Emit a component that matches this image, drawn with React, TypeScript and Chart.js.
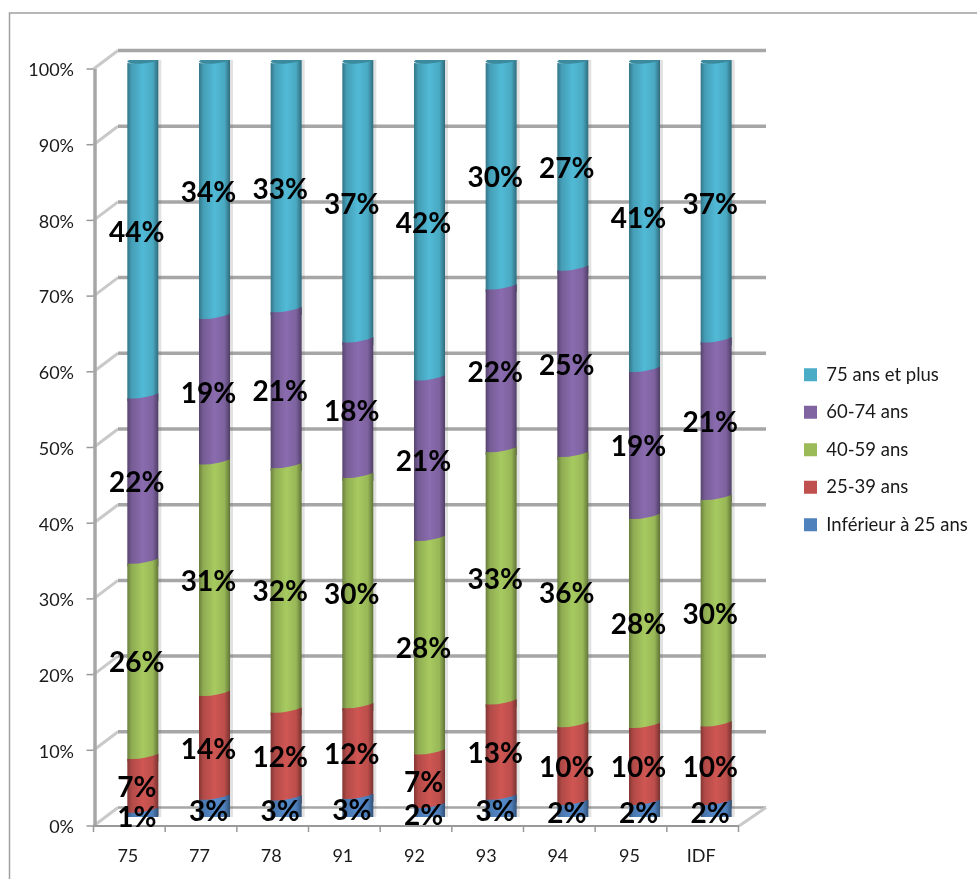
import React, { useEffect, useRef } from "react";
import { BarController, Chart, registerables } from "chart.js";

// Share of each age group per département, in percent (rows sum to 100).
const categories = ["75", "77", "78", "91", "92", "93", "94", "95", "IDF"];
const under25 = [1.0, 2.7, 2.6, 2.8, 1.6, 2.7, 2.0, 2.0, 2.0];
const age25to39 = [7.1, 13.7, 11.6, 12.0, 7.1, 12.6, 10.3, 10.2, 10.4];
const age40to59 = [25.8, 30.6, 32.3, 30.4, 28.2, 33.3, 35.7, 27.6, 29.9];
const age60to74 = [21.8, 19.2, 20.6, 17.9, 21.2, 21.5, 24.6, 19.4, 20.8];
const age75plus = [44.3, 33.8, 32.9, 36.9, 41.9, 29.9, 27.4, 40.8, 36.9];

const seriesNames = ["Inférieur à 25 ans", "25-39 ans", "40-59 ans", "60-74 ans", "75 ans et plus"];
const seriesColors = ["#4F81BD", "#C0504D", "#9BBB59", "#8064A2", "#4BACC6"];
const seriesValues = [under25, age25to39, age40to59, age60to74, age75plus];

const FONT = "Lato, 'Open Sans', sans-serif";
const TEXT = "#1a1a1a";
const GRID = "#a6a6a6";
const GRID_SOFT = "#c9c9c9";

function shade(hex: string, f: number): string {
  const n = parseInt(hex.slice(1), 16);
  const ch = (v: number) => Math.max(0, Math.min(255, Math.round(v * f)));
  return `rgb(${ch((n >> 16) & 255)},${ch((n >> 8) & 255)},${ch(n & 255)})`;
}

// Stacked bar controller that paints each segment as a piece of a cylinder.
class CylinderController extends BarController {
  static id = "cylinder";

  draw() {
    const ctx = this.chart.ctx;
    const last = this.index === this.chart.data.datasets.length - 1;
    const first = this.index === 0;
    for (const el of this.getMeta().data as any[]) {
      const base = el.options.backgroundColor as string;
      const l = el.x - el.width / 2;
      const r = el.x + el.width / 2;
      const g = ctx.createLinearGradient(l, 0, r, 0);
      g.addColorStop(0, shade(base, 0.68));
      g.addColorStop(0.14, shade(base, 0.92));
      g.addColorStop(0.5, shade(base, 1.08));
      g.addColorStop(0.82, shade(base, 0.98));
      g.addColorStop(1, shade(base, 0.62));

      ctx.save();
      // soft cast shadow on the wall behind the column
      ctx.fillStyle = "rgba(110,110,110,0.2)";
      ctx.fillRect(r, el.y, 3, el.base - el.y);

      ctx.beginPath();
      ctx.moveTo(l, el.y + 3);
      ctx.bezierCurveTo(l + el.width * 0.3, el.y + 4, l + el.width * 0.7, el.y + 2, r, el.y - 2);
      if (first) {
        ctx.lineTo(r, el.base);
        ctx.bezierCurveTo(l + el.width * 0.7, el.base + 5, l + el.width * 0.3, el.base + 6, l, el.base + 4);
      } else {
        ctx.lineTo(r, el.base + 6);
        ctx.lineTo(l, el.base + 6);
      }
      ctx.closePath();
      ctx.fillStyle = g;
      ctx.fill();

      if (last) {
        // column cap
        ctx.beginPath();
        ctx.ellipse(el.x, el.y + 0.5, el.width / 2, 3, -0.07, 0, Math.PI * 2);
        ctx.fillStyle = shade(base, 0.8);
        ctx.fill();
      }
      ctx.restore();
    }
  }
}

Chart.register(...registerables, CylinderController);

// Back wall, side wall, floor and front axis of the box the columns stand in.
const chartBox = {
  id: "chartBox",
  afterLayout(chart: any) {
    // The legend sits in the free column to the right of the plot.
    const legend = chart.legend;
    const pad = legend.options.labels.padding;
    legend.left = 804 - pad;
    legend.right = 977;
    legend.top = 375 - 9.5 - pad;
    legend.bottom = legend.top + 400;
  },
  beforeDatasetsDraw(chart: any) {
    const { ctx, chartArea, scales } = chart;
    const { x: xs, y: ys } = scales;
    const step = (chartArea.right - chartArea.left) / categories.length;
    const frontL = chartArea.left - 13.5;
    const frontR = chartArea.right - 13;
    const backL = chartArea.left + 11;
    const backR = chartArea.right + 14;
    const back = (p: number) => p - 9.5;
    const front = (p: number) => p + 9;

    ctx.save();
    // outer frame
    ctx.strokeStyle = "#a0a0a0";
    ctx.lineWidth = 1.5;
    ctx.beginPath();
    ctx.moveTo(9.5, 879);
    ctx.lineTo(9.5, 13);
    ctx.lineTo(977, 13);
    ctx.stroke();

    for (const t of ys.ticks) {
      const p = ys.getPixelForValue(t.value);
      ctx.strokeStyle = GRID_SOFT;
      ctx.lineWidth = 3;
      ctx.beginPath();
      ctx.moveTo(frontL, front(p));
      ctx.lineTo(backL, back(p));
      ctx.stroke();
      ctx.strokeStyle = GRID;
      ctx.lineWidth = t.value === 0 ? 2.5 : 3.5;
      ctx.beginPath();
      ctx.moveTo(backL, back(p));
      ctx.lineTo(backR, back(p));
      ctx.stroke();
      // y tick
      ctx.strokeStyle = "#999";
      ctx.lineWidth = 1.5;
      ctx.beginPath();
      ctx.moveTo(frontL - 7, front(p));
      ctx.lineTo(frontL, front(p));
      ctx.stroke();
    }

    // front vertical axis
    ctx.strokeStyle = GRID;
    ctx.lineWidth = 3.5;
    ctx.beginPath();
    ctx.moveTo(frontL + 1.5, front(ys.getPixelForValue(100)));
    ctx.lineTo(frontL + 1.5, front(ys.getPixelForValue(0)));
    ctx.stroke();

    // floor: right edge, front edge and category ticks
    const floor = front(ys.getPixelForValue(0));
    ctx.strokeStyle = GRID_SOFT;
    ctx.lineWidth = 3;
    ctx.beginPath();
    ctx.moveTo(frontR, floor);
    ctx.lineTo(backR, back(ys.getPixelForValue(0)));
    ctx.stroke();
    ctx.strokeStyle = "#999";
    ctx.lineWidth = 2;
    ctx.beginPath();
    ctx.moveTo(frontL, floor);
    ctx.lineTo(frontR, floor);
    ctx.stroke();
    ctx.lineWidth = 1.5;
    for (let i = 0; i <= xs.ticks.length; i++) {
      const px = frontL + i * step;
      ctx.beginPath();
      ctx.moveTo(px, floor);
      ctx.lineTo(px, floor + 6);
      ctx.stroke();
    }
    ctx.restore();
  },
  // Percentage written over each segment.
  afterDatasetsDraw(chart: any) {
    const { ctx } = chart;
    ctx.save();
    ctx.fillStyle = "#000";
    ctx.font = `bold 28px ${FONT}`;
    ctx.textAlign = "center";
    ctx.textBaseline = "middle";
    chart.data.datasets.forEach((ds: any, i: number) => {
      chart.getDatasetMeta(i).data.forEach((el: any, j: number) => {
        const label = `${Math.round(ds.data[j])}%`;
        ctx.fillText(label, el.x - 6, (el.y + el.base) / 2 + 5);
      });
    });
    ctx.restore();
  },
};

export default function App() {
  const ref = useRef<HTMLCanvasElement>(null);

  useEffect(() => {
    const chart = new Chart(ref.current as HTMLCanvasElement, {
      type: "cylinder" as any,
      data: {
        labels: categories,
        datasets: seriesNames.map((label, i) => ({
          label,
          data: seriesValues[i],
          backgroundColor: seriesColors[i],
          borderWidth: 0,
          categoryPercentage: 1,
          barPercentage: 0.433,
        })),
      },
      options: {
        responsive: false,
        animation: false,
        events: [],
        layout: { padding: { top: 60, right: 225, left: 0, bottom: 0 } },
        plugins: {
          tooltip: { enabled: false },
          title: { display: false },
          legend: {
            position: "chartArea" as any,
            align: "start",
            reverse: true,
            maxWidth: 400,
            labels: {
              boxWidth: 13,
              boxHeight: 13,
              padding: 19,
              color: TEXT,
              font: { family: FONT, size: 18.5 },
            },
          },
        },
        scales: {
          x: {
            type: "category",
            stacked: true,
            offset: true,
            afterFit: (s: any) => {
              s.height = 62;
            },
            grid: { display: false, drawTicks: false },
            border: { display: false },
            ticks: {
              padding: 28,
              labelOffset: -15,
              maxRotation: 0,
              autoSkip: false,
              color: TEXT,
              font: { family: FONT, size: 18 },
            },
          },
          y: {
            type: "linear",
            stacked: true,
            min: 0,
            max: 100,
            afterFit: (s: any) => {
              s.width = 107;
            },
            grid: { display: false, drawTicks: false },
            border: { display: false },
            ticks: {
              stepSize: 10,
              padding: 33,
              labelOffset: 10.5,
              color: TEXT,
              font: { family: FONT, size: 18 },
              callback: (v: any) => `${v}%`,
            },
          },
        },
      },
      plugins: [chartBox],
    } as any);
    return () => chart.destroy();
  }, []);

  return (
    <canvas
      ref={ref}
      width={977}
      height={879}
      style={{ position: "absolute", left: 0, top: 0, display: "block" }}
    />
  );
}
